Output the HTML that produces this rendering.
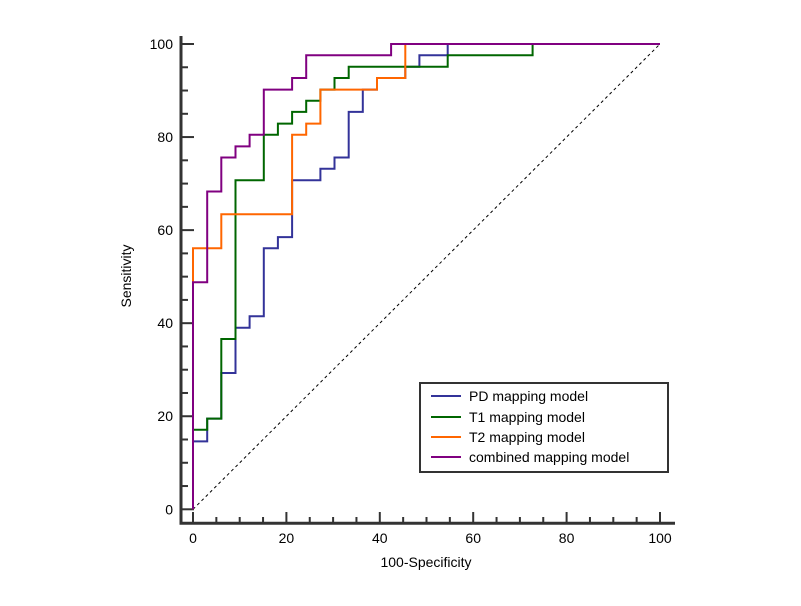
<!DOCTYPE html>
<html><head><meta charset="utf-8"><style>
body{margin:0;background:#fff}
svg text{font-family:"Liberation Sans",Arial,sans-serif;fill:#000}
</style></head><body>
<svg id="chart" width="801" height="601" xmlns="http://www.w3.org/2000/svg">
<g id="axes"></g><g id="series"></g>
<g>
<rect x="420" y="383" width="248" height="89" fill="#fff" stroke="#333" stroke-width="2"/>
<line x1="431" y1="396" x2="461" y2="396" stroke="#333399" stroke-width="2"/>
<text x="469" y="401" font-size="14">PD mapping model</text>
<line x1="431" y1="417" x2="461" y2="417" stroke="#006600" stroke-width="2"/>
<text x="469" y="422" font-size="14">T1 mapping model</text>
<line x1="431" y1="437" x2="461" y2="437" stroke="#ff6600" stroke-width="2"/>
<text x="469" y="442" font-size="14">T2 mapping model</text>
<line x1="431" y1="457" x2="461" y2="457" stroke="#800080" stroke-width="2"/>
<text x="469" y="462" font-size="14">combined mapping model</text>
</g>
<text x="426" y="567" font-size="14" text-anchor="middle">100-Specificity</text>
<text x="131" y="276" font-size="14" text-anchor="middle" transform="rotate(-90 131 276)">Sensitivity</text>
</svg>
<script>
const xTicks=[0,20,40,60,80,100];
const yTicks=[0,20,40,60,80,100];
// step points: [100-specificity, sensitivity]
const pdX=[0,0,3.03,3.03,6.06,6.06,9.09,9.09,12.12,12.12,15.15,15.15,18.18,18.18,21.21,21.21,27.27,27.27,30.30,30.30,33.33,33.33,36.36,36.36,39.39,39.39,45.45,45.45,48.48,48.48,54.55,54.55,100];
const pdY=[0,14.6,14.6,19.5,19.5,29.3,29.3,39.0,39.0,41.5,41.5,56.1,56.1,58.5,58.5,70.7,70.7,73.2,73.2,75.6,75.6,85.4,85.4,90.2,90.2,92.7,92.7,95.1,95.1,97.6,97.6,100,100];
const t1X=[0,0,3.03,3.03,6.06,6.06,9.09,9.09,15.15,15.15,18.18,18.18,21.21,21.21,24.24,24.24,27.27,27.27,30.30,30.30,33.33,33.33,54.55,54.55,72.73,72.73,100];
const t1Y=[0,17.1,17.1,19.5,19.5,36.6,36.6,70.7,70.7,80.5,80.5,82.9,82.9,85.4,85.4,87.8,87.8,90.2,90.2,92.7,92.7,95.1,95.1,97.6,97.6,100,100];
const t2X=[0,0,6.06,6.06,21.21,21.21,24.24,24.24,27.27,27.27,39.39,39.39,45.45,45.45,100];
const t2Y=[0,56.1,56.1,63.4,63.4,80.5,80.5,82.9,82.9,90.2,90.2,92.7,92.7,100,100];
const cbX=[0,0,3.03,3.03,6.06,6.06,9.09,9.09,12.12,12.12,15.15,15.15,21.21,21.21,24.24,24.24,42.42,42.42,100];
const cbY=[0,48.8,48.8,68.3,68.3,75.6,75.6,78.0,78.0,80.5,80.5,90.2,90.2,92.7,92.7,97.6,97.6,100,100];

const NS="http://www.w3.org/2000/svg";
const sx=v=>193+v*4.67, sy=v=>509.3-v*4.653;
function mk(tag,attrs,parent){const e=document.createElementNS(NS,tag);for(const k in attrs)e.setAttribute(k,attrs[k]);parent.appendChild(e);return e;}
const ax=document.getElementById('axes'), se=document.getElementById('series');
let a=mk('line',{x1:181,y1:36,x2:181,y2:524.5,stroke:'#333','stroke-width':3},ax);


a=mk('line',{x1:179.5,y1:523.3,x2:675,y2:523.3,stroke:'#333','stroke-width':3},ax);


for(let v=0;v<=100;v+=5){
  const maj=v%20===0;
  let t=mk('line',{x1:181,y1:sy(v),x2:maj?194:188,y2:sy(v),stroke:'#333','stroke-width':2},ax);
  
  
  t=mk('line',{x1:sx(v),y1:523,x2:sx(v),y2:maj?512:517,stroke:'#333','stroke-width':2},ax);
  
  
}
yTicks.forEach(v=>{const t=mk('text',{x:173,y:sy(v)+5,'font-size':14,'text-anchor':'end'},ax);t.textContent=v;
  
  });
xTicks.forEach(v=>{const t=mk('text',{x:sx(v),y:543,'font-size':14,'text-anchor':'middle'},ax);t.textContent=v;
  
  });
let d=mk('line',{x1:sx(0),y1:sy(0),x2:sx(100),y2:sy(100),stroke:'#000','stroke-width':1,'stroke-dasharray':'3,3'},se);


function path(X,Y,col,name){const pts=X.map((x,i)=>sx(x).toFixed(1)+','+sy(Y[i]).toFixed(1)).join(' ');
  const p=mk('polyline',{points:pts,fill:'none',stroke:col,'stroke-width':2},se);
  
  }
path(pdX,pdY,'#333399','pd-roc-curve');
path(t1X,t1Y,'#006600','t1-roc-curve');
path(t2X,t2Y,'#ff6600','t2-roc-curve');
path(cbX,cbY,'#800080','combined-roc-curve');
</script>
</body></html>
